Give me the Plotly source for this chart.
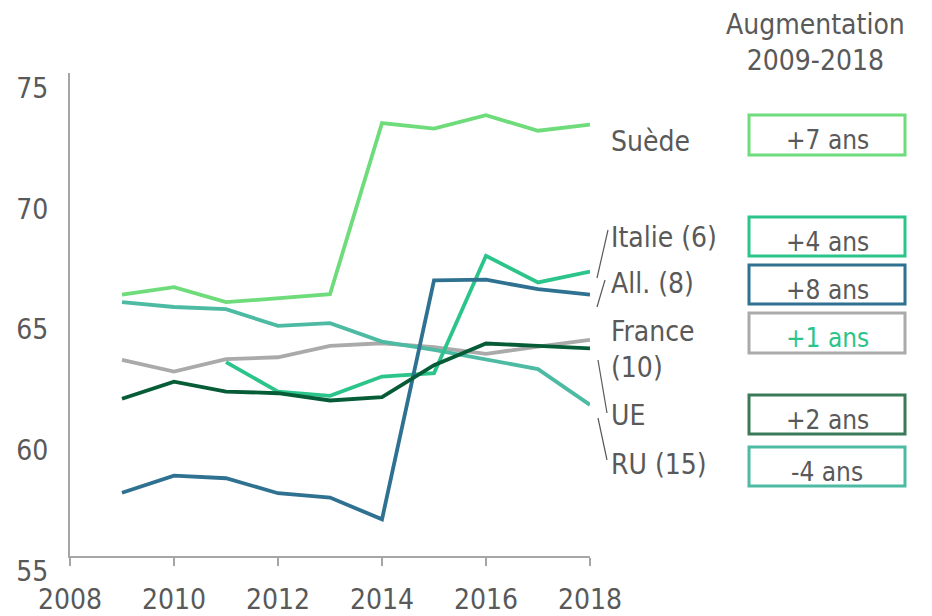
import plotly.graph_objects as go

years = [2009, 2010, 2011, 2012, 2013, 2014, 2015, 2016, 2017, 2018]
suede = [65.82, 66.13, 65.51, 65.68, 65.84, 72.93, 72.70, 73.25, 72.61, 72.86]
ru = [65.51, 65.31, 65.22, 64.53, 64.64, 63.88, 63.54, 63.12, 62.74, 61.26]
france = [63.12, 62.64, 63.15, 63.23, 63.70, 63.81, 63.65, 63.37, 63.67, 63.95]
italie = [None, None, 63.03, 61.81, 61.63, 62.43, 62.57, 67.43, 66.33, 66.78]
allemagne = [57.62, 58.33, 58.22, 57.60, 57.42, 56.52, 66.41, 66.44, 66.05, 65.82]
ue = [61.51, 62.22, 61.81, 61.74, 61.44, 61.58, 62.90, 63.80, 63.70, 63.60]

labels = ["Suède", "Italie (6)", "All. (8)", "France<br>(10)", "UE", "RU (15)"]
augment = ["+7 ans", "+4 ans", "+8 ans", "+1 ans", "+2 ans", "-4 ans"]
header = "Augmentation<br>2009-2018"

C_SUEDE = "#6EDC7A"
C_ITALIE = "#2BC48A"
C_ALL = "#2F7191"
C_FRANCE = "#AAAAAA"
C_UE = "#065C36"
C_RU = "#4DBBA3"
C_TEXT = "#595959"
FONT = "DejaVu Sans Condensed, DejaVu Sans, sans-serif"
FS = 28

W, H = 932, 616
L, R, T, B = 70, 590, 73, 556


def px(x):
    return (x - L) / (R - L)


def py(y):
    return (B - y) / (B - T)


fig = go.Figure()
series = [
    (france, C_FRANCE),
    (ru, C_RU),
    (suede, C_SUEDE),
    (italie, C_ITALIE),
    (allemagne, C_ALL),
    (ue, C_UE),
]
for vals, col in series:
    fig.add_trace(go.Scatter(x=years, y=vals, mode="lines",
                             line=dict(color=col, width=3.8),
                             connectgaps=False, hoverinfo="skip",
                             showlegend=False))

annotations = []
shapes = []

# header
annotations.append(dict(x=px(815), y=py(42), xref="paper", yref="paper",
                        text=header, showarrow=False, xanchor="center",
                        yanchor="middle", align="center",
                        font=dict(size=FS, color=C_TEXT, family=FONT)))

# country labels
label_y = [141, 237, 283, 349, 415, 464]
for lab, ly in zip(labels, label_y):
    annotations.append(dict(x=px(609), y=py(ly), xref="paper", yref="paper",
                            text=lab, showarrow=False, xanchor="left",
                            yanchor="middle", align="left",
                            font=dict(size=FS, color=C_TEXT, family=FONT)))

# boxes
box_y = [(115, 155), (217, 256), (265, 304), (313, 353), (395, 434), (447, 486)]
box_col = [C_SUEDE, C_ITALIE, C_ALL, C_FRANCE, "#3B7A58", C_RU]
txt_col = [C_TEXT, C_TEXT, C_TEXT, C_ITALIE, C_TEXT, C_TEXT]
for (y0, y1), bc, tc, t in zip(box_y, box_col, txt_col, augment):
    shapes.append(dict(type="rect", xref="paper", yref="paper",
                       x0=px(749), x1=px(905), y0=py(y1), y1=py(y0),
                       line=dict(color=bc, width=3), fillcolor="rgba(0,0,0,0)"))
    annotations.append(dict(x=px(827), y=py((y0 + y1) / 2 + 5), xref="paper",
                            yref="paper", text=t, showarrow=False,
                            xanchor="center", yanchor="middle",
                            font=dict(size=26, color=tc, family=FONT)))

# leader lines
leaders = [((597, 278), (608, 230)), ((597, 307), (605, 280)),
           ((598, 360), (607, 413)), ((598, 418), (607, 460))]
for (x0, y0), (x1, y1) in leaders:
    shapes.append(dict(type="line", xref="paper", yref="paper",
                       x0=px(x0), y0=py(y0), x1=px(x1), y1=py(y1),
                       line=dict(color="#595959", width=1.2)))

fig.update_layout(
    width=W, height=H,
    margin=dict(l=L, r=W - R, t=T, b=H - B, pad=0),
    plot_bgcolor="white", paper_bgcolor="white",
    font=dict(family=FONT, color=C_TEXT, size=FS),
    annotations=annotations, shapes=shapes,
    showlegend=False,
)
fig.update_xaxes(range=[2008, 2018], tickvals=[2008, 2010, 2012, 2014, 2016, 2018],
                 showgrid=False, zeroline=False, showline=True,
                 linecolor="#A6A6A6", linewidth=2, ticks="outside",
                 ticklen=8, tickwidth=2, tickcolor="#A6A6A6",
                 ticklabelstandoff=9, automargin=False,
                 tickfont=dict(size=FS, color=C_TEXT, family=FONT))
fig.update_yaxes(range=[55, 75], tickvals=[55, 60, 65, 70, 75],
                 showgrid=False, zeroline=False, showline=True,
                 linecolor="#A6A6A6", linewidth=2, ticks="",
                 ticklabelshift=15, ticklabelstandoff=14, automargin=False,
                 tickfont=dict(size=FS, color=C_TEXT, family=FONT))

fig.write_html("out.html", config={"displayModeBar": False},
               post_script="document.body.style.margin='0';")
